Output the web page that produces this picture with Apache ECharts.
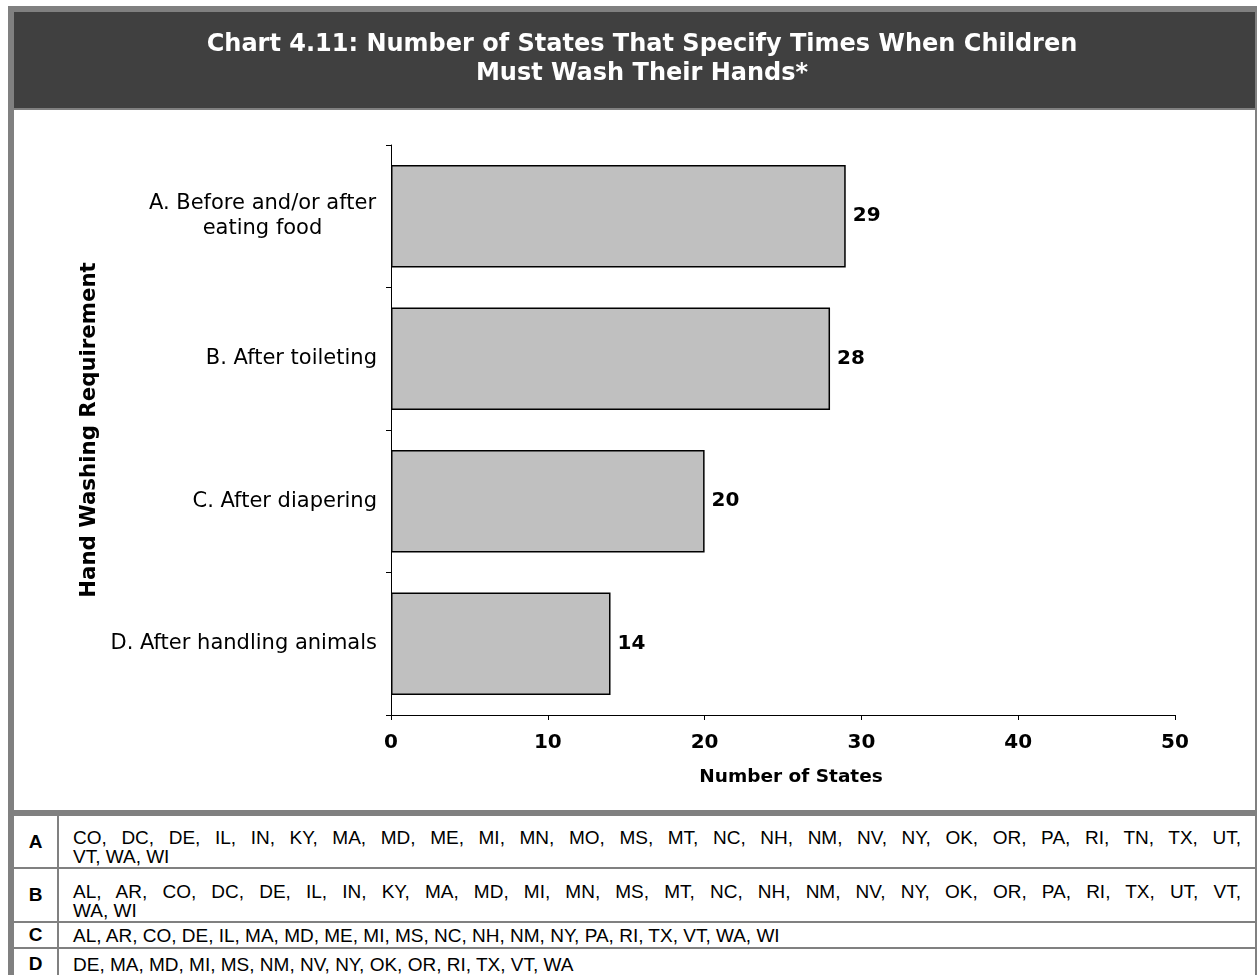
<!DOCTYPE html>
<html>
<head>
<meta charset="utf-8">
<script src="https://cdn.jsdelivr.net/npm/echarts@6.0.0/dist/echarts.min.js"></script>
<style>
html,body{margin:0;padding:0;background:#fff;width:1257px;height:975px;overflow:hidden}
#frame{position:absolute;left:8px;top:6px;width:1249px;height:990px;background:#808080}
#chart{position:absolute;left:14px;top:12px;width:1241px;height:798px;background:#fff}
#table{position:absolute;left:14px;top:816px;width:1241px;background:#fff;font-family:'Liberation Sans',Arial,sans-serif;font-size:19px;color:#000}
.row{display:flex;box-sizing:border-box;border-bottom:2px solid #808080}
.key{width:45px;flex:none;box-sizing:border-box;border-right:2px solid #808080;display:flex;align-items:center;justify-content:center;font-weight:bold}
.txt{flex:1;padding:0 14px;display:flex;flex-direction:column;justify-content:center}
.txt.multi{justify-content:flex-end;padding-bottom:1px}
.line{line-height:19px;white-space:nowrap}
.line.full{text-align:justify;text-align-last:justify;white-space:normal}
</style>
</head>
<body>
<div id="frame"></div>
<div id="chart"></div>
<div id="table"></div>
<script>
// ---- data ----
const titleLines = ['Chart 4.11: Number of States That Specify Times When Children', 'Must Wash Their Hands*'];
const categories = ['A. Before and/or after\neating food', 'B. After toileting', 'C. After diapering', 'D. After handling animals'];
const values = [29, 28, 20, 14];
const xAxisName = 'Number of States';
const yAxisName = 'Hand Washing Requirement';
const xMin = 0, xMax = 50, xStep = 10;
const rowKeys = ['A', 'B', 'C', 'D'];
const statesA = ['CO','DC','DE','IL','IN','KY','MA','MD','ME','MI','MN','MO','MS','MT','NC','NH','NM','NV','NY','OK','OR','PA','RI','TN','TX','UT','VT','WA','WI'];
const statesB = ['AL','AR','CO','DC','DE','IL','IN','KY','MA','MD','MI','MN','MS','MT','NC','NH','NM','NV','NY','OK','OR','PA','RI','TX','UT','VT','WA','WI'];
const statesC = ['AL','AR','CO','DE','IL','MA','MD','ME','MI','MS','NC','NH','NM','NY','PA','RI','TX','VT','WA','WI'];
const statesD = ['DE','MA','MD','MI','MS','NM','NV','NY','OK','OR','RI','TX','VT','WA'];

// ---- layout ----
const FONT = '"DejaVu Sans", Verdana, sans-serif';
const catFontSize = 21;
const perLine = 26;
const rowHeights = [53, 54, 26, 32];

const mctx = document.createElement('canvas').getContext('2d');
mctx.font = catFontSize + 'px "DejaVu Sans"';
let multiW = 0;
categories.forEach(c => {
  const ls = c.split('\n');
  if (ls.length > 1) ls.forEach(l => { multiW = Math.max(multiW, Math.ceil(mctx.measureText(l).width) + 1); });
});

const chart = echarts.init(document.getElementById('chart'));
chart.setOption({
  animation: false,
  graphic: [
    { type: 'rect', z: -10, shape: { x: 0, y: 0, width: 1241, height: 96 }, style: { fill: '#404040' } },
    { type: 'rect', z: -10, shape: { x: 0, y: 96, width: 1241, height: 2 }, style: { fill: '#808080' } }
  ],
  title: {
    text: titleLines.join('\n'),
    left: 628, top: 18, padding: 0, textAlign: 'center',
    textStyle: { color: '#fff', fontFamily: FONT, fontWeight: 'bold', fontSize: 24, lineHeight: 29 }
  },
  grid: { left: 377, right: 80, top: 133, bottom: 95 },
  xAxis: {
    type: 'value', min: xMin, max: xMax, interval: xStep,
    axisLine: { show: true, lineStyle: { color: '#000', width: 1 } },
    axisTick: { show: true, length: 5, lineStyle: { color: '#000', width: 1 } },
    splitLine: { show: false },
    axisLabel: { color: '#000', fontFamily: FONT, fontWeight: 'bold', fontSize: 20, margin: 18 },
    name: xAxisName, nameLocation: 'middle', nameGap: 53,
    nameTextStyle: { color: '#000', fontFamily: FONT, fontWeight: 'bold', fontSize: 18.5, padding: [0, 0, 0, 16] }
  },
  yAxis: {
    type: 'category', inverse: true, data: categories,
    axisLine: { show: true, lineStyle: { color: '#000', width: 1 } },
    axisTick: { show: true, length: 5, lineStyle: { color: '#000', width: 1 } },
    splitLine: { show: false },
    axisLabel: {
      color: '#000', fontFamily: FONT, fontSize: catFontSize, margin: 14, lineHeight: 25,
      formatter: v => v.indexOf('\n') < 0 ? v : v.split('\n').map(l => '{c|' + l + '}').join('\n'),
      rich: { c: { width: multiW, align: 'center', color: '#000', fontFamily: FONT, fontSize: catFontSize, lineHeight: 25 } }
    },
    name: yAxisName, nameLocation: 'middle', nameGap: 279,
    nameTextStyle: { color: '#000', fontFamily: FONT, fontWeight: 'bold', fontSize: 21.3 }
  },
  series: [{
    type: 'bar', data: values, barCategoryGap: '28%',
    itemStyle: { color: '#C0C0C0', borderColor: '#000', borderWidth: 1.5 },
    label: { show: true, position: 'right', distance: 7, color: '#000', fontFamily: FONT, fontWeight: 'bold', fontSize: 20 }
  }]
});

// ---- key table ----
const lists = [statesA, statesB, statesC, statesD];
const table = document.getElementById('table');
rowKeys.forEach((k, i) => {
  const row = document.createElement('div');
  row.className = 'row';
  row.style.height = rowHeights[i] + 'px';
  const key = document.createElement('div');
  key.className = 'key';
  key.textContent = k;
  const txt = document.createElement('div');
  const items = lists[i];
  txt.className = 'txt' + (items.length > perLine ? ' multi' : '');
  for (let s = 0; s < items.length; s += perLine) {
    const chunk = items.slice(s, s + perLine);
    const isLast = s + perLine >= items.length;
    const line = document.createElement('div');
    line.className = 'line' + (isLast ? '' : ' full');
    line.textContent = chunk.join(', ') + (isLast ? '' : ',');
    txt.appendChild(line);
  }
  row.appendChild(key);
  row.appendChild(txt);
  table.appendChild(row);
});
</script>
</body>
</html>
